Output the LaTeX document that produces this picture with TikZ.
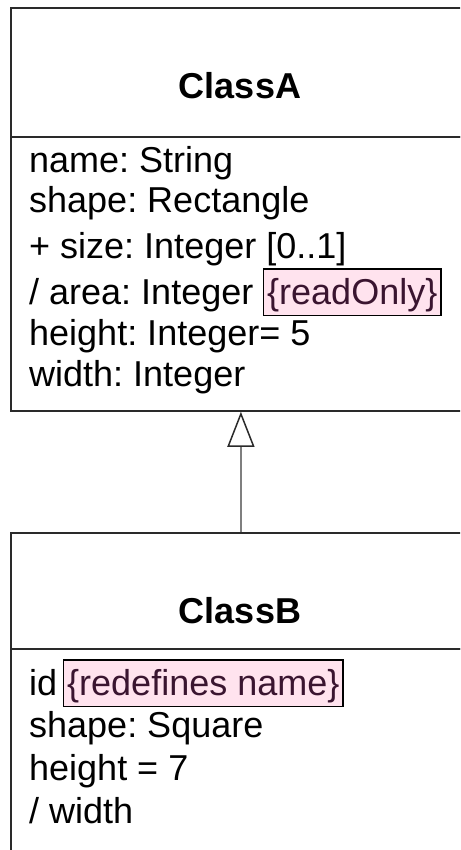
\documentclass[tikz,border=0pt]{standalone}
\usepackage{fontspec}
\setmainfont{Liberation Sans}
\usetikzlibrary{arrows.meta}
\definecolor{boxline}{HTML}{2A2A2A}
\definecolor{pinkfill}{HTML}{FFE3EE}
\definecolor{pinktext}{HTML}{3A1530}
\definecolor{connline}{HTML}{7F7F7F}
\frenchspacing
\begin{document}
\begin{tikzpicture}[x=1pt,y=-1pt,
  compartment/.style={draw=boxline, line width=1.8pt, inner sep=0pt, anchor=north west, minimum width=460pt},
  classname/.style={font=\fontsize{36}{40}\selectfont\bfseries, anchor=base, inner sep=0pt},
  attr/.style={font=\fontsize{36}{40}\selectfont, anchor=base west, inner sep=0pt},
  constraint/.style={draw=black, line width=1.4pt, fill=pinkfill, text=pinktext,
    font=\fontsize{36}{40}\selectfont, anchor=base west, inner xsep=3.5pt, inner ysep=0pt,
    text height=35pt, text depth=11.5pt},
  generalization/.style={draw=connline, line width=1.5pt,
    -{Triangle[open, length=35pt, width=27pt, color=boxline, line width=1.5pt]}},
]
\useasboundingbox (0,0) rectangle (460,850);
\clip (0,0) rectangle (460,850);
\fill[white] (0,0) rectangle (460,850);

% ClassA
\node[compartment, minimum height=129pt] (at) at (10,7) {};
\node[compartment, minimum height=274pt] (aa) at (10,136) {};
\node[classname] (an) at (240,99) {ClassA};
\node[attr] (a1) at (29,173) {name: String};
\node[attr] (a2) at (29,213) {shape: Rectangle};
\node[attr] (a3) at (29,258) {+ size: Integer [0..1]};
\node[attr] (a4) at (29,304) {/ area: Integer};
\node[constraint] (a4c) at (263,304) {\{readOnly\}\hspace{6.5pt}};
\node[attr] (a5) at (29,345) {height: Integer= 5};
\node[attr] (a6) at (29,386) {width: Integer};

% ClassB
\node[compartment, minimum height=116pt] (bt) at (10,532) {};
\node[compartment, minimum height=260pt] (ba) at (10,648) {};
\node[classname] (bn) at (240,623) {ClassB};
\node[attr] (b1) at (29,695) {id};
\node[constraint] (b1c) at (63,695) {\{redefines name\}\hspace{6.5pt}};
\node[attr] (b2) at (29,737) {shape: Square};
\node[attr] (b3) at (29,780) {height = 7};
\node[attr] (b4) at (29,823) {/ width};

% generalization
\draw[generalization] (bt.north) -- (aa.south);
\end{tikzpicture}
\end{document}
